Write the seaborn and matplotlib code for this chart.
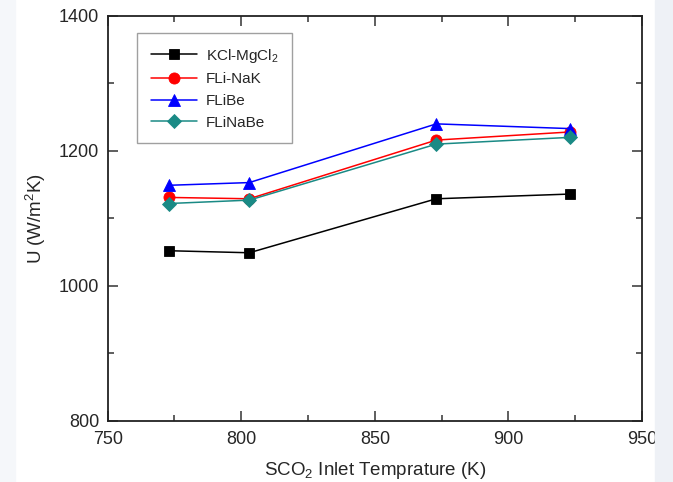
import pandas as pd
import seaborn as sns
import matplotlib.pyplot as plt
from matplotlib.ticker import MultipleLocator
from matplotlib.patches import Rectangle

temps = [773, 803, 873, 923]
kcl_mgcl2 = [1052, 1049, 1129, 1136]
fli_nak = [1131, 1129, 1216, 1228]
flibe = [1149, 1153, 1240, 1233]
flinabe = [1122, 1127, 1210, 1220]

names = ["KCl-MgCl$_2$", "FLi-NaK", "FLiBe", "FLiNaBe"]
series = [kcl_mgcl2, fli_nak, flibe, flinabe]

sns.set_theme(style="ticks")
plt.rcParams["font.family"] = ["Liberation Sans", "DejaVu Sans"]
plt.rcParams["mathtext.fontset"] = "custom"
plt.rcParams["mathtext.rm"] = "Liberation Sans"
plt.rcParams["mathtext.it"] = "Liberation Sans:italic"

colors = ["black", "#ff0000", "#0000ff", "#1a8a85"]
markers = ["s", "o", "^", "D"]
msizes = [7, 8, 9, 7]

fig = plt.figure(figsize=(6.73, 4.82), dpi=100)
# faint page edges seen in the source screenshot
fig.patches.append(Rectangle((0.973, 0), 0.027, 1, transform=fig.transFigure,
                             color="#eef1f6", zorder=0))
fig.patches.append(Rectangle((0, 0), 0.022, 1, transform=fig.transFigure,
                             color="#f5f7fa", zorder=0))
ax = fig.add_axes([0.160, 0.127, 0.794, 0.840])

for name, vals, c, m, ms in zip(names, series, colors, markers, msizes):
    sns.lineplot(x=temps, y=vals, color=c, marker=m, markersize=ms,
                 markeredgecolor=c, markeredgewidth=0.6, linewidth=1.1,
                 label=name, ax=ax)

ax.set_xlim(750, 950)
ax.set_ylim(800, 1400)
ax.xaxis.set_major_locator(MultipleLocator(50))
ax.xaxis.set_minor_locator(MultipleLocator(25))
ax.yaxis.set_major_locator(MultipleLocator(200))
ax.yaxis.set_minor_locator(MultipleLocator(100))
ax.tick_params(which="both", direction="in", top=True, right=True,
               labelsize=13, width=1.1, color="#333333")
ax.tick_params(which="major", length=7)
ax.tick_params(which="minor", length=4)
ax.tick_params(axis="x", pad=7)
ax.tick_params(axis="y", pad=6)
for s in ax.spines.values():
    s.set_linewidth(1.3)
    s.set_color("#222222")

ax.set_xlabel("SCO$_2$ Inlet Temprature (K)", fontsize=13.5, labelpad=9)
ax.set_ylabel("U (W/m$^2$K)", fontsize=13.5, labelpad=8)

leg = ax.legend(loc="upper left", bbox_to_anchor=(0.055, 0.958), borderaxespad=0,
                fontsize=11, frameon=True, fancybox=False, edgecolor="#888888",
                handlelength=3.0, handletextpad=0.6, borderpad=0.9,
                labelspacing=0.5)
leg.get_frame().set_linewidth(1.0)

plt.savefig("out.png", dpi=100)
